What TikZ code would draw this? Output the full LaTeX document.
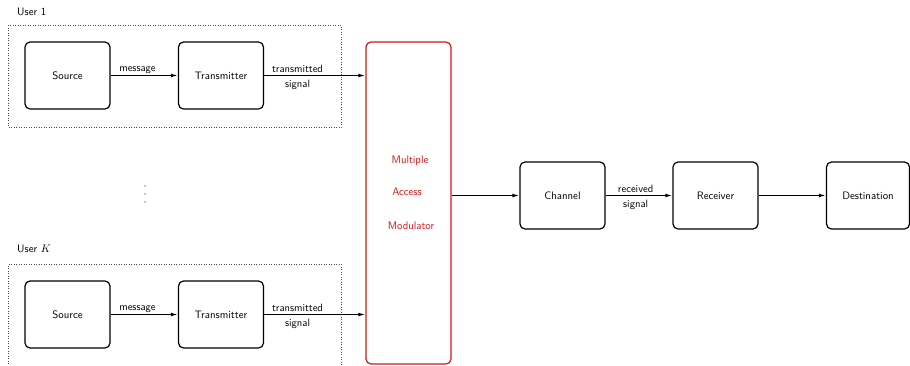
\documentclass[tikz,border=0pt]{standalone}
\usetikzlibrary{arrows.meta}
\definecolor{mred}{RGB}{205,25,25}
\begin{document}
\begin{tikzpicture}[x=1pt,y=-1pt,
  font=\sffamily\fontsize{10.8}{13}\selectfont,
  blk/.style={draw, line width=1.2pt, rounded corners=5pt, minimum width=85pt, minimum height=67pt, inner sep=0pt},
  arr/.style={line width=1.25pt, -{Latex[length=7pt,width=3.8pt]}},
  lbl/.style={inner sep=1pt, font=\sffamily\fontsize{10.6}{12}\selectfont},
  grp/.style={dotted, line width=0.5pt, draw=black!70},
  redtxt/.style={text=mred, font=\sffamily\fontsize{11}{12}\selectfont}
]
\useasboundingbox (0,0) rectangle (910,365);

% user 1
\node[anchor=west, inner sep=0pt] (u1) at (17,12) {User 1};
\draw[grp] (8,25) rectangle (341,127);
\node[blk] (s1) at (67.5,75.5) {Source};
\node[blk] (t1) at (221,75.5) {Transmitter};

% user K
\node[anchor=west, inner sep=0pt] (uk) at (17,249) {User $K$};
\draw[grp] (8,366) -- (8,264) -- (341,264) -- (341,366);
\node[blk] (s2) at (67.5,314.5) {Source};
\node[blk] (t2) at (221,314.5) {Transmitter};

% dots
\fill (145,186) circle (0.6);
\fill (145,194) circle (0.6);
\fill (145,202) circle (0.6);

% MAM
\node[blk, draw=mred, minimum height=322pt] (mam) at (408.5,203) {};
\node[redtxt] (m1) at (410,161) {Multiple};
\node[redtxt] (m2) at (407,192) {Access};
\node[redtxt] (m3) at (411,226) {Modulator};

% right chain
\node[blk] (ch) at (562.5,195.5) {Channel};
\node[blk] (rx) at (715.5,195.5) {Receiver};
\node[blk, minimum width=83pt] (dst) at (868,195.5) {Destination};

% arrows
\draw[arr] (s1.east) -- node[lbl, above, pos=0.4] {message} (t1.west);
\draw[arr] (t1.east) -- node[lbl, above, pos=0.33, yshift=1pt] {transmitted} node[lbl, below, pos=0.33, yshift=-3pt] {signal} (t1.east -| mam.west);
\draw[arr] (s2.east) -- node[lbl, above, pos=0.4] {message} (t2.west);
\draw[arr] (t2.east) -- node[lbl, above, pos=0.33, yshift=1pt] {transmitted} node[lbl, below, pos=0.33, yshift=-3pt] {signal} (t2.east -| mam.west);
\draw[arr] (mam.east |- ch.west) -- (ch.west);
\draw[arr] (ch.east) -- node[lbl, above, pos=0.45, yshift=1pt] {received} node[lbl, below, pos=0.45, yshift=-3pt] {signal} (rx.west);
\draw[arr] (rx.east) -- (dst.west);
\end{tikzpicture}
\end{document}
